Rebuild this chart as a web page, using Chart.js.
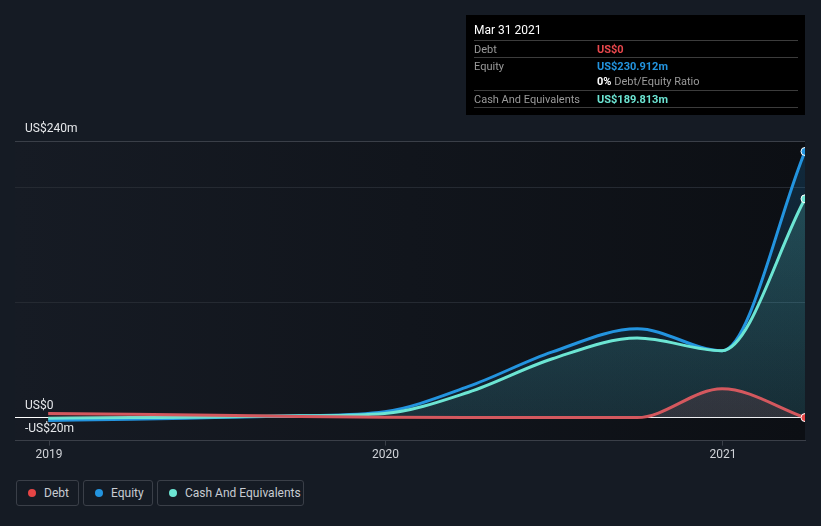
<!DOCTYPE html>
<html>
<head>
<meta charset="utf-8">
<script src="https://cdn.jsdelivr.net/npm/chart.js@4/dist/chart.umd.min.js"></script>
<style>
  body { margin: 0; background: #151b24; font-family: Roboto, "Open Sans", sans-serif; }
  #wrap { position: relative; width: 821px; height: 526px; overflow: hidden; }
  #box { position: absolute; left: 0; top: 0; width: 821px; height: 470px; }
  .tip { position: absolute; left: 466px; top: 15px; width: 339px; height: 100px; background: #000; font-size: 11px; color: #9a9a9a; }
  .tip .title { position: absolute; left: 8px; top: 8px; color: #fff; font-size: 12px; }
  .tip .row { position: absolute; left: 8px; right: 7px; height: 17px; line-height: 17px; }
  .tip .sep { border-top: 1px solid #3c3c3c; }
  .tip .val { position: absolute; left: 123px; top: 0; font-weight: bold; }
  .legend { position: absolute; top: 480px; height: 26px; border: 1px solid #3a3f48; border-radius: 3px; box-sizing: border-box; color: #c8ccd2; font-size: 12px; line-height: 24px; }
  .legend i { position: absolute; left: 11px; top: 8px; width: 8px; height: 8px; border-radius: 50%; }
  .legend span { position: absolute; left: 27px; }
</style>
</head>
<body>
<div id="wrap">
  <div id="box"><canvas id="graphique"></canvas></div>

  <div class="tip">
    <div class="title">Mar 31 2021</div>
    <div class="row sep" style="top:25px">Debt<span class="val" style="color:#e8474c">US$0</span></div>
    <div class="row sep" style="top:42px">Equity<span class="val" style="color:#2394df">US$230.912m</span></div>
    <div class="row" style="top:58px"><span class="val" style="color:#9a9a9a;font-weight:normal"><b style="color:#fff">0%</b> Debt/Equity Ratio</span></div>
    <div class="row sep" style="top:75px">Cash And Equivalents<span class="val" style="color:#6ce5d3">US$189.813m</span></div>
    <div class="row sep" style="top:92px"></div>
  </div>

  <div class="legend" style="left:16px;width:63px"><i style="background:#e64545"></i><span>Debt</span></div>
  <div class="legend" style="left:83px;width:70px"><i style="background:#2394df"></i><span>Equity</span></div>
  <div class="legend" style="left:157px;width:147px"><i style="background:#6ce5d3"></i><span>Cash And Equivalents</span></div>
</div>

<script>
// dates des bilans (trimestriels)
const periodes = ["2018-12-31", "2019-03-31", "2019-06-30", "2019-09-30", "2019-12-31",
                  "2020-03-31", "2020-06-30", "2020-09-30", "2020-12-31", "2021-03-31"];
// valeurs en millions de US$
const dette   = [3.5, 2.8, 2.0, 1.0, 0.3, 0, 0, 0, 25, 0];
const capitaux = [-2.5, -1.5, 0, 1.5, 5, 27, 57, 77, 58, 230.912];
const tresorerie = [-0.5, 0, 0.5, 1.5, 3.5, 22, 51, 69, 58, 189.813];
// graduations
const anneesTicks = ["2019", "2020", "2021"];
const yLabels = { "-20": "-US$20m", "0": "US$0", "240": "US$240m" };
const yGrille = [-20, 0, 100, 200, 240];

const origine = Date.UTC(2019, 0, 1);
function jours(d) {
    return (Date.parse(d + "T00:00:00Z") - origine) / 86400000;
}
const xJours = periodes.map(jours);
const xAnnees = anneesTicks.map(a => jours(a + "-01-01"));

function serie(valeurs) {
    return valeurs.map((v, i) => ({ x: xJours[i], y: v }));
}

function degrade(r, g, b, haut, bas) {
    return function (context) {
        const area = context.chart.chartArea;
        if (!area) return `rgba(${r},${g},${b},${haut})`;
        const grad = context.chart.ctx.createLinearGradient(0, area.top, 0, area.bottom);
        grad.addColorStop(0, `rgba(${r},${g},${b},${haut})`);
        grad.addColorStop(1, `rgba(${r},${g},${b},${bas})`);
        return grad;
    };
}

function dernierPoint(ctx) {
    return ctx.dataIndex === periodes.length - 1 ? 4 : 0;
}

// fond de la zone de tracé
const fondPlugin = {
    id: "fond",
    beforeDraw(chart) {
        const { ctx, chartArea: a } = chart;
        const grad = ctx.createLinearGradient(a.left, 0, a.right, 0);
        grad.addColorStop(0, "#161b24");
        grad.addColorStop(1, "#0c0f14");
        ctx.save();
        ctx.fillStyle = grad;
        ctx.fillRect(a.left, a.top, a.right - a.left, a.bottom - a.top);
        ctx.restore();
    }
};

const commun = {
    borderWidth: 3,
    cubicInterpolationMode: "monotone",
    fill: "origin",
    pointRadius: dernierPoint,
    pointHoverRadius: 0,
    pointBorderColor: "#ffffff",
    pointBorderWidth: 1
};

const data = {
    datasets: [
        Object.assign({}, commun, {
            label: "Debt",
            data: serie(dette),
            borderColor: "#d4585e",
            pointBackgroundColor: "#e64545",
            backgroundColor: degrade(212, 88, 94, 0.22, 0.12)
        }),
        Object.assign({}, commun, {
            label: "Cash And Equivalents",
            data: serie(tresorerie),
            borderColor: "#6ce5d3",
            pointBackgroundColor: "#6ce5d3",
            backgroundColor: degrade(108, 229, 211, 0.22, 0.08)
        }),
        Object.assign({}, commun, {
            label: "Equity",
            data: serie(capitaux),
            borderColor: "#2394df",
            pointBackgroundColor: "#2394df",
            backgroundColor: degrade(35, 148, 223, 0.2, 0.08)
        })
    ]
};

const config = {
    type: "line",
    data: data,
    plugins: [fondPlugin],
    options: {
        responsive: false,
        animation: false,
        layout: { padding: { left: 15, right: 16, top: 141, bottom: 6 } },
        plugins: { legend: { display: false }, tooltip: { enabled: false } },
        scales: {
            x: {
                type: "linear",
                min: -37,
                max: xJours[xJours.length - 1],
                afterBuildTicks: axis => { axis.ticks = xAnnees.map(v => ({ value: v })); },
                ticks: {
                    color: "#d0d3d8",
                    font: { family: "Roboto", size: 12 },
                    padding: 2,
                    maxRotation: 0,
                    callback: (v) => anneesTicks[xAnnees.indexOf(v)]
                },
                grid: { drawOnChartArea: false, color: "#3a3f48", tickLength: 5 },
                border: { color: "#3a3f48" }
            },
            y: {
                min: -20,
                max: 240,
                afterBuildTicks: axis => { axis.ticks = yGrille.map(v => ({ value: v })); },
                afterFit: axis => { axis.width = 0; },
                ticks: {
                    mirror: true,
                    padding: 10,
                    labelOffset: -12,
                    color: "#e6e8eb",
                    font: { family: "Roboto", size: 12 },
                    callback: (v) => yLabels[String(v)] || ""
                },
                grid: {
                    drawTicks: false,
                    color: ctx => {
                        const v = ctx.tick && ctx.tick.value;
                        if (v === 0) return "#ffffff";
                        if (v === 240 || v === -20) return "#3a3f48";
                        return "#252a32";
                    }
                },
                border: { display: false }
            }
        }
    }
};

const canvas = document.querySelector("#graphique");
canvas.width = 821;
canvas.height = 470;
new Chart(canvas, config);
</script>
</body>
</html>
